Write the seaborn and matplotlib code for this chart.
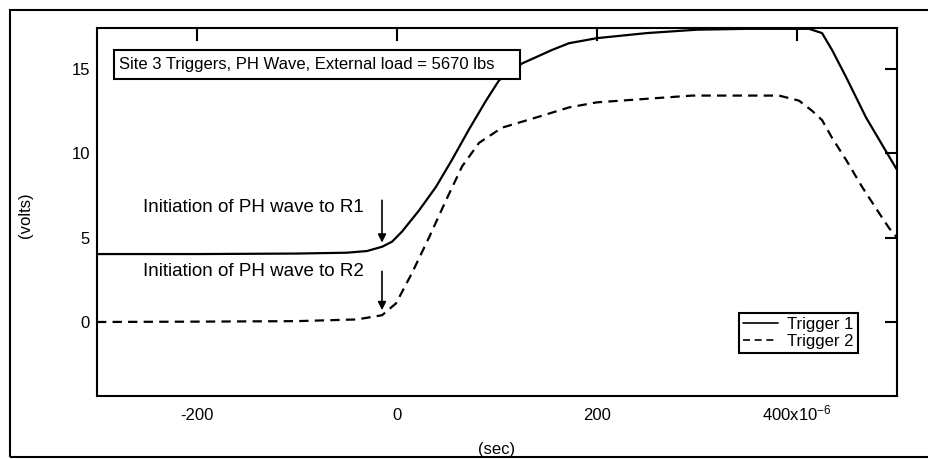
import numpy as np
import pandas as pd
import matplotlib.pyplot as plt
import seaborn as sns
from matplotlib.patches import Rectangle

sns.set_style("white")
plt.rcParams['font.family'] = ['Liberation Sans', 'DejaVu Sans']
plt.rcParams['mathtext.fontset'] = 'custom'
plt.rcParams['mathtext.rm'] = 'Liberation Sans'
plt.rcParams['mathtext.default'] = 'regular'
for k in ['text.color', 'axes.labelcolor', 'xtick.color', 'ytick.color']:
    plt.rcParams[k] = 'black'

# Trigger 1 (time in microseconds, volts)
t1_us = [-300, -200, -100, -50, -30, -15, -5, 5, 22, 39, 55, 72, 89, 102, 125,
         155, 172, 200, 250, 300, 350, 412, 425, 435, 449, 469, 482, 500]
v1 = [4.02, 4.02, 4.05, 4.1, 4.2, 4.45, 4.75, 5.35, 6.6, 8.0, 9.6, 11.4, 13.1, 14.3, 15.3,
      16.1, 16.5, 16.8, 17.1, 17.3, 17.35, 17.35, 17.1, 16.1, 14.5, 12.1, 10.8, 9.0]

# Trigger 2
t2_us = [-300, -200, -100, -40, -30, -15, -1, 15, 32, 49, 65, 82, 105, 139, 172,
         200, 295, 382, 402, 415, 425, 435, 449, 465, 482, 492, 500]
v2 = [0.0, 0.02, 0.05, 0.15, 0.25, 0.4, 1.1, 2.9, 5.0, 7.2, 9.2, 10.6, 11.5, 12.1, 12.7,
      13.0, 13.4, 13.4, 13.1, 12.5, 11.95, 10.9, 9.6, 8.0, 6.45, 5.56, 5.0]

series = ["Trigger 1", "Trigger 2"]
x_ticks_us = [-200, 0, 200, 400]
x_tick_labels = ['-200', '0', '200', r'400x10$^{-6}$']
y_ticks = [0, 5, 10, 15]

df = pd.concat([
    pd.DataFrame({"t": np.array(t1_us) * 1e-6, "v": v1, "trace": series[0]}),
    pd.DataFrame({"t": np.array(t2_us) * 1e-6, "v": v2, "trace": series[1]}),
], ignore_index=True)

fig = plt.figure(figsize=(9.29, 4.59), dpi=100)
ax = fig.add_axes([0.1044, 0.1373, 0.8612, 0.8017])

sns.lineplot(data=df, x="t", y="v", hue="trace", style="trace",
             palette={series[0]: "black", series[1]: "black"},
             dashes={series[0]: "", series[1]: (4.2, 2.8)},
             linewidth=1.6, sort=False, estimator=None, ax=ax)

ax.set_xlim(-300e-6, 500e-6)
ax.set_ylim(-4.38, 17.4)
ax.set_xticks(np.array(x_ticks_us) * 1e-6)
ax.set_xticklabels(x_tick_labels)
ax.set_yticks(y_ticks)
ax.tick_params(direction='in', length=9, width=1.5, labelsize=12,
               top=True, right=True)
ax.tick_params(axis='x', pad=17.3)
ax.tick_params(axis='y', pad=5)
for lab in ax.get_xticklabels():
    lab.set_va('baseline')
for s in ax.spines.values():
    s.set_linewidth(1.5)
    s.set_color('black')

ax.set_xlabel("(sec)", fontsize=12)
ax.set_ylabel("(volts)", fontsize=12)
ax.xaxis.set_label_coords(0.5, -0.145)
ax.xaxis.label.set_va('center')
ax.yaxis.set_label_coords(-0.0895, 0.492)
ax.yaxis.label.set_va('center')

# title box (fixed size, wider than its text)
ax.add_patch(Rectangle((0.02125, 0.861), 0.508, 0.079, transform=ax.transAxes,
                       fc='white', ec='black', lw=1.5, zorder=5))
ax.text(0.0275, 0.9005, "Site 3 Triggers, PH Wave, External load = 5670 lbs",
        transform=ax.transAxes, fontsize=12, va='center', ha='left', zorder=6)

ax.text(-33e-6, 6.75, "Initiation of PH wave to R1", fontsize=13.5, ha='right', va='center')
ax.text(-33e-6, 2.96, "Initiation of PH wave to R2", fontsize=13.5, ha='right', va='center')
arrow = dict(arrowstyle='-|>', color='black', lw=1.2, mutation_scale=12, shrinkA=0, shrinkB=0)
ax.annotate("", xy=(-15e-6, 4.7), xytext=(-15e-6, 7.2), arrowprops=arrow)
ax.annotate("", xy=(-15e-6, 0.7), xytext=(-15e-6, 3.0), arrowprops=arrow)

leg = ax.legend(loc='lower right', bbox_to_anchor=(0.951, 0.117), borderaxespad=0,
                fancybox=False, edgecolor='black', framealpha=1, fontsize=12,
                handlelength=2.1, handletextpad=0.55, borderpad=0.25, labelspacing=0.1,
                title=None)
leg.get_frame().set_linewidth(1.5)
for h in leg.get_lines():
    h.set_linewidth(1.2)

fig.add_artist(Rectangle((10 / 929, 2 / 459), 1.0, 447 / 459, transform=fig.transFigure,
                         fill=False, ec='black', lw=1.5))

fig.savefig("out.png", dpi=100)
